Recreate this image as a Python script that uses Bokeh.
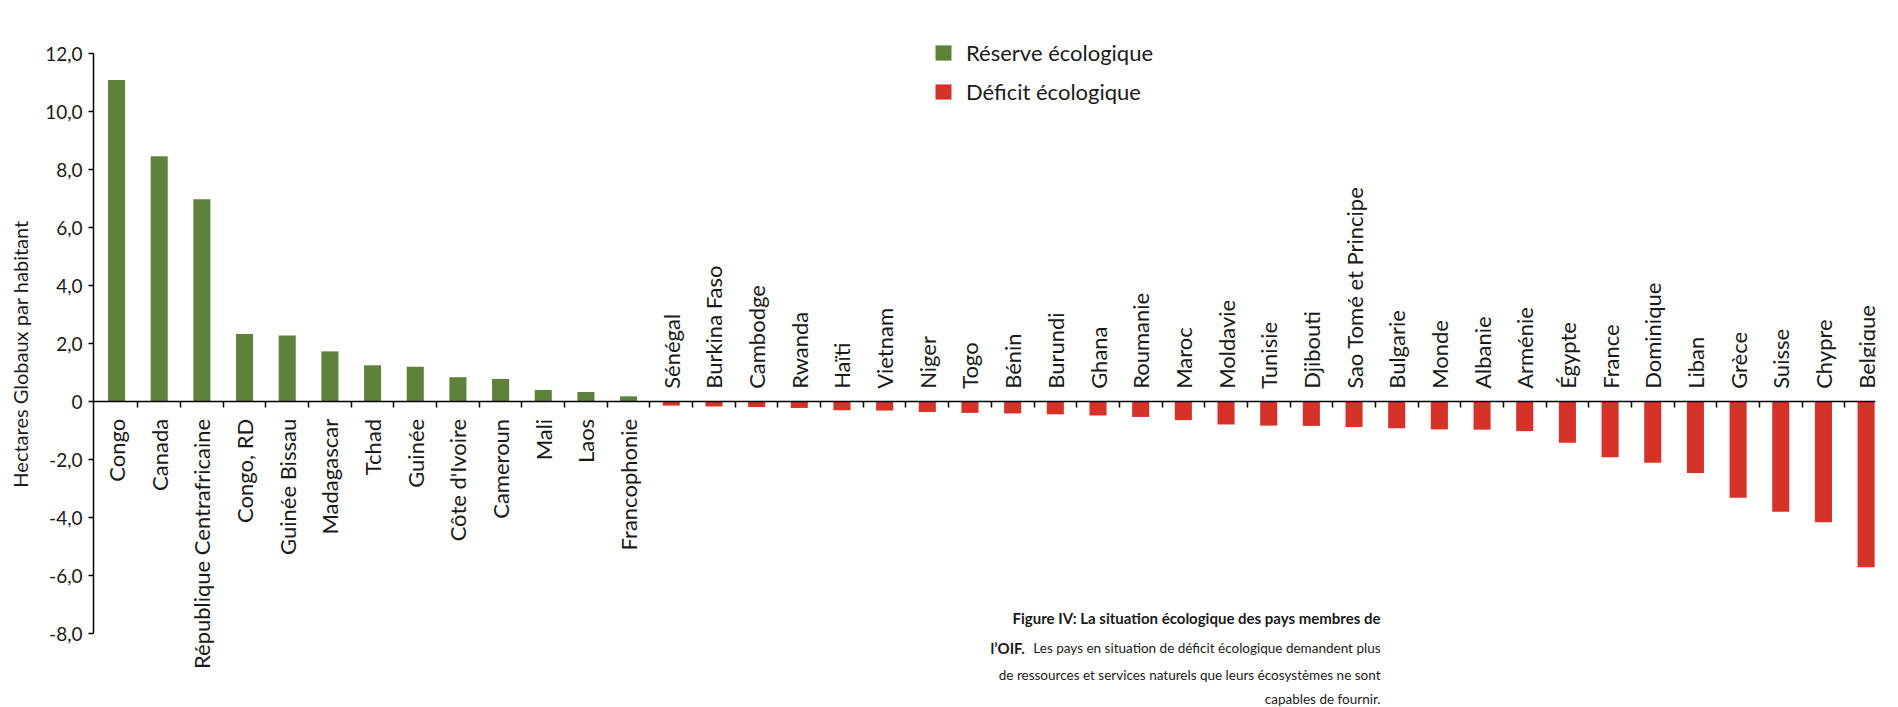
import math
from bokeh.plotting import figure
from bokeh.models import (ColumnDataSource, Range1d, FixedTicker, LabelSet, Label,
                          Legend, LegendItem)
from bokeh.core.properties import value
from bokeh.embed import file_html
from bokeh.resources import INLINE

# ---- data ----
countries = ["Congo", "Canada", "République Centrafricaine", "Congo, RD", "Guinée Bissau",
             "Madagascar", "Tchad", "Guinée", "Côte d'Ivoire", "Cameroun", "Mali", "Laos",
             "Francophonie", "Sénégal", "Burkina Faso", "Cambodge", "Rwanda", "Haïti",
             "Vietnam", "Niger", "Togo", "Bénin", "Burundi", "Ghana", "Roumanie", "Maroc",
             "Moldavie", "Tunisie", "Djibouti", "Sao Tomé et Principe", "Bulgarie", "Monde",
             "Albanie", "Arménie", "Égypte", "France", "Dominique", "Liban", "Grèce",
             "Suisse", "Chypre", "Belgique"]
values = [11.1, 8.47, 6.99, 2.34, 2.29, 1.74, 1.26, 1.21, 0.85, 0.79, 0.41, 0.34, 0.19,
          -0.13, -0.16, -0.18, -0.21, -0.29, -0.30, -0.35, -0.38, -0.40, -0.43, -0.47,
          -0.52, -0.63, -0.78, -0.82, -0.83, -0.87, -0.91, -0.95, -0.96, -1.01, -1.41,
          -1.91, -2.10, -2.45, -3.31, -3.79, -4.15, -5.70]
y_ticks = [-8, -6, -4, -2, 0, 2, 4, 6, 8, 10, 12]
y_tick_labels = ["-8,0", "-6,0", "-4,0", "-2,0", "0", "2,0", "4,0", "6,0", "8,0", "10,0", "12,0"]
legend_labels = ["Réserve écologique", "Déficit écologique"]
y_title = "Hectares Globaux par habitant"
caption_bold_1 = "Figure IV: La situation écologique des pays membres de"
caption_bold_2 = "l’OIF."
caption_rest_2 = "Les pays en situation de déficit écologique demandent plus"
caption_3 = "de ressources et services naturels que leurs écosystèmes ne sont"
caption_4 = "capables de fournir."

GREEN = "#5f823a"
RED = "#d63228"
TXT = "#1a1a1a"
FONT = "Lato"

idx = list(range(len(countries)))
pos = [i for i in idx if values[i] >= 0]
neg = [i for i in idx if values[i] < 0]
src_pos = ColumnDataSource(dict(x=pos, top=[values[i] for i in pos], name=[countries[i] for i in pos], y=[0] * len(pos)))
src_neg = ColumnDataSource(dict(x=neg, top=[values[i] for i in neg], name=[countries[i] for i in neg], y=[0] * len(neg)))

# frame spans full height so that labels/caption outside the axis span are not clipped
p = figure(width=1898, height=707, output_backend="svg", toolbar_location=None,
           x_range=Range1d(-0.54, len(countries) - 0.78), y_range=Range1d(-10.54, 13.84),
           min_border_left=93, min_border_right=23, min_border_top=0, min_border_bottom=0)
p.outline_line_color = None
p.xgrid.visible = False
p.ygrid.visible = False

r_pos = p.vbar(x="x", top="top", bottom=0, width=0.4, source=src_pos, fill_color=GREEN, line_color=None)
r_neg = p.vbar(x="x", top="top", bottom=0, width=0.4, source=src_neg, fill_color=RED, line_color=None)

# y axis, limited to -8..12
ya = p.yaxis[0]
ya.bounds = (y_ticks[0], y_ticks[-1])
ya.ticker = FixedTicker(ticks=y_ticks)
ya.major_label_overrides = {t: l for t, l in zip(y_ticks, y_tick_labels)}
ya.minor_tick_line_color = None
ya.major_tick_in = 0
ya.major_tick_out = 5
ya.major_label_standoff = 6
ya.major_label_text_font = FONT
ya.major_label_text_font_size = "19px"
ya.major_label_text_color = TXT
ya.axis_line_color = "black"
ya.axis_line_width = 1.5
ya.major_tick_line_width = 1.5
ya.axis_label = y_title
ya.axis_label_text_font = FONT
ya.axis_label_text_font_size = "20px"
ya.axis_label_text_font_style = "normal"
ya.axis_label_text_color = TXT
ya.axis_label_standoff = 10

# x axis drawn at zero, ticks between categories
xa = p.xaxis[0]
xa.fixed_location = 0
xa.ticker = FixedTicker(ticks=[i + 0.5 for i in idx[:-1]])
xa.major_label_text_font_size = "1px"
xa.major_label_text_color = None
xa.major_label_standoff = 0
xa.minor_tick_line_color = None
xa.major_tick_in = 0
xa.major_tick_out = 6
xa.axis_line_width = 1.5
xa.major_tick_line_width = 1.5

# category labels
lab_pos = LabelSet(x="x", y="y", text="name", source=src_pos, angle=math.pi / 2,
                   text_align="right", text_baseline="middle", y_offset=-17,
                   text_font=value(FONT), text_font_size="22px", text_color=TXT)
lab_neg = LabelSet(x="x", y="y", text="name", source=src_neg, angle=math.pi / 2,
                   text_align="left", text_baseline="middle", y_offset=13,
                   text_font=value(FONT), text_font_size="22px", text_color=TXT)
p.add_layout(lab_pos)
p.add_layout(lab_neg)

# legend
legend = Legend(items=[LegendItem(label=legend_labels[0], renderers=[r_pos]),
                       LegendItem(label=legend_labels[1], renderers=[r_neg])],
                location=(840, 602), border_line_color=None, background_fill_alpha=0,
                padding=0, margin=0, spacing=12, glyph_height=19, glyph_width=20,
                label_standoff=13, label_height=20, label_text_font=FONT,
                label_text_font_size="22px", label_text_color=TXT,
                label_text_baseline="middle")
p.add_layout(legend)

# caption (bottom right)
cap_x = 1287
for txt, yy, style, size in [(caption_bold_1, 90, "bold", "15px"), (caption_rest_2, 60, "normal", "13.5px"),
                             (caption_3, 33, "normal", "13.5px"), (caption_4, 9, "normal", "13.5px")]:
    p.add_layout(Label(x=cap_x, y=yy, x_units="screen", y_units="screen", text=txt,
                       text_align="right", text_baseline="middle", text_font=FONT,
                       text_font_size=size, text_font_style=style, text_color=TXT))
p.add_layout(Label(x=897, y=60, x_units="screen", y_units="screen", text=caption_bold_2,
                   text_align="left", text_baseline="middle", text_font=FONT,
                   text_font_size="15px", text_font_style="bold", text_color=TXT))

open("out.html", "w").write(file_html(p, INLINE))
